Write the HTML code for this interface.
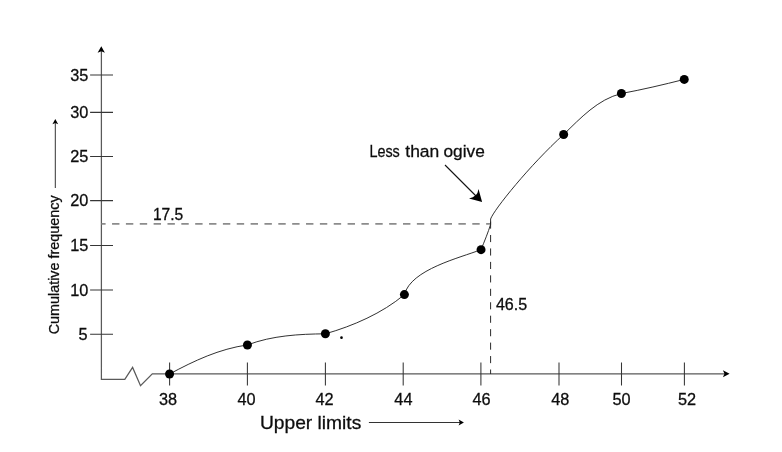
<!DOCTYPE html>
<html>
<head>
<meta charset="utf-8">
<title>Less than ogive</title>
<style>
html,body{margin:0;padding:0;background:#fff;}
body{width:782px;height:452px;overflow:hidden;}
svg{display:block;}
text{font-family:"Liberation Sans",sans-serif;fill:#0d0d0d;stroke:#0d0d0d;stroke-width:0.28px;}
</style>
</head>
<body>
<svg width="782" height="452" viewBox="0 0 782 452">
<rect x="0" y="0" width="782" height="452" fill="#ffffff"/>

<!-- axes -->
<path fill="none" stroke="#5a5a5a" stroke-width="1.25" d="M101.4 51 V379.3 H124.8 L132.6 367.4 L140.5 385.7 L152.3 373.75 H725"/>
<g fill="none" stroke="#363636" stroke-width="1.05">
  <!-- y ticks -->
  <path d="M90.1 74.9H113 M90.1 112.35H113 M90.1 156.4H113 M90.1 200.6H113 M90.1 245.4H113 M90.1 290H113 M90.1 334.3H113"/>
  <!-- x ticks -->
  <path d="M169.6 362.6V385.6 M247.4 362.6V385.6 M325.4 362.6V385.6 M403.2 362.6V385.6 M480.9 362.6V385.6 M559 362.6V385.6 M621.5 362.6V385.6 M684.4 362.6V385.6"/>
</g>
<!-- axis arrow heads -->
<path d="M101.3 46.3 L104.9 52.7 L101.3 51.3 L97.6 52.7 Z" fill="#000"/>
<path d="M729.6 373.7 L722.9 370.2 L724.5 373.7 L722.9 377.3 Z" fill="#000"/>

<!-- dashed guide lines -->
<path d="M101.5 223.9 H490.4" fill="none" stroke="#8c8c8c" stroke-width="1.75" stroke-dasharray="7.4 6.455" stroke-dashoffset="3.3"/>
<path d="M490.6 221.55 V374" fill="none" stroke="#2a2a2a" stroke-width="1" stroke-dasharray="7.1 6.35"/>

<!-- ogive curve -->
<path fill="none" stroke="#262626" stroke-width="0.95" stroke-linejoin="round" d="
M169.56 374
C194.1 360.8 219.5 348.8 247.42 344.95
C272.2 335.5 299.2 334.1 325.4 333.8
C353.1 325.9 382.2 313.3 404.4 294.6
C411.1 269.3 459.6 258 481.05 249.65
C484.5 241.2 488.2 232.2 490.6 224.4
L490.6 219
C494 209.5 530 165 563.65 134.45
C580.6 118.1 597.7 99.4 621.4 93.5
C642.5 89.6 663.4 84.7 684.25 79.4"/>

<!-- points -->
<g fill="#000">
  <circle cx="169.56" cy="374" r="4.5"/>
  <circle cx="247.42" cy="344.95" r="4.5"/>
  <circle cx="325.4" cy="333.8" r="4.5"/>
  <circle cx="404.4" cy="294.6" r="4.5"/>
  <circle cx="481.05" cy="249.65" r="4.5"/>
  <circle cx="563.65" cy="134.45" r="4.5"/>
  <circle cx="621.4" cy="93.5" r="4.5"/>
  <circle cx="684.25" cy="79.4" r="4.5"/>
  <circle cx="341.5" cy="337.7" r="1.35"/>
</g>

<!-- annotation arrow -->
<path d="M445 165 L477 197" fill="none" stroke="#111" stroke-width="1.1"/>
<path d="M482.1 202.1 L469 198.4 Q477.5 197.2 478.5 189 Z" fill="#000"/>

<!-- small label arrows -->
<path d="M55.3 188 V122" fill="none" stroke="#333" stroke-width="1"/>
<path d="M55.3 119 L58.2 124.2 L55.3 123 L52.4 124.2 Z" fill="#000"/>
<path d="M368.9 422.5 H460" fill="none" stroke="#333" stroke-width="1"/>
<path d="M463.9 422.5 L458.6 419.6 L459.8 422.5 L458.6 425.4 Z" fill="#000"/>

<!-- y labels -->
<g font-size="16.3" text-anchor="end">
  <text x="88.4" y="80.7">35</text>
  <text x="88.4" y="118">30</text>
  <text x="88.4" y="162.2">25</text>
  <text x="88.4" y="206.4">20</text>
  <text x="88.4" y="251.2">15</text>
  <text x="88.4" y="295.8">10</text>
  <text x="87.6" y="340.2">5</text>
</g>
<!-- x labels -->
<g font-size="16.3" text-anchor="middle">
  <text x="168" y="405">38</text>
  <text x="246.5" y="405">40</text>
  <text x="324.6" y="405">42</text>
  <text x="403.4" y="405">44</text>
  <text x="481.5" y="405">46</text>
  <text x="560.3" y="405">48</text>
  <text x="621.6" y="405">50</text>
  <text x="687" y="405">52</text>
</g>
<text x="152.9" y="220.1" font-size="16.3" textLength="30.4" lengthAdjust="spacingAndGlyphs">17.5</text>
<text x="495.9" y="310.3" font-size="16.3" textLength="31.3" lengthAdjust="spacingAndGlyphs">46.5</text>
<text y="156.5" font-size="17.2"><tspan x="369.4" textLength="30.4" lengthAdjust="spacingAndGlyphs">Less</tspan> <tspan x="405.3" textLength="34" lengthAdjust="spacingAndGlyphs">than</tspan> <tspan x="443.5" textLength="41.3" lengthAdjust="spacingAndGlyphs">ogive</tspan></text>
<text x="259.9" y="428.8" font-size="18.6" textLength="101.4" lengthAdjust="spacingAndGlyphs">Upper limits</text>
<text transform="translate(58.7 334.3) rotate(-90)" font-size="14.2" textLength="138.9" lengthAdjust="spacingAndGlyphs">Cumulative frequency</text>
</svg>
</body>
</html>
